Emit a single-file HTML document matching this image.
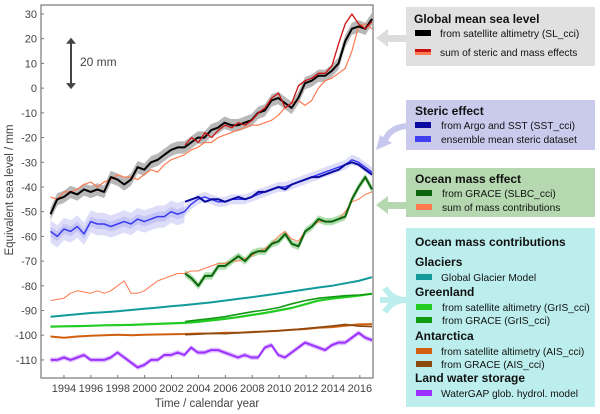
<!DOCTYPE html>
<html><head><meta charset="utf-8"><style>
body{margin:0;background:#fff;font-family:"Liberation Sans",sans-serif}
svg{display:block}
text{font-family:"Liberation Sans",sans-serif}
</style></head><body>
<svg id="c" width="600" height="414" viewBox="0 0 600 414"></svg>
<script>
const halfYearBlack=[-51,-45,-44,-42,-43,-41,-42,-41,-42,-36,-37,-39,-37,-32,-33,-30,-29,-27,-25,-24,-24,-22,-20,-20,-17,-16,-14,-15,-15,-14,-13,-10,-9,-5,-4,-6,-8,-4,2,3,5,5,7,10,19,24,25,24,28];
const halfYearOrangeSum=[-44,-45,-42,-42,-41,-39,-38,-40,-38,-37,-35,-36,-36,-37,-35,-33,-34,-31,-29,-28,-27,-25,-24,-22,-22,-20,-19,-18,-17,-16,-15,-15,-14,-13,-11,-8,-6,-5,-7,-5,0,3,4,6,8,15,25,26,24];
const redSum=[-23,-20,-22,-18,-20,-17,-15,-16,-14,-15,-13,-10,-8,-4,-2,-8,-6,1,3,4,6,6,9,18,26,30,26,24,27];
const stericArgo=[-46,-45,-44,-46,-45,-45,-46,-45,-44,-45,-44,-42,-42,-41,-40,-41,-39,-38,-37,-36,-36,-35,-34,-33,-31,-30,-31,-33,-35];
const stericEnsemble=[-58,-60,-57,-58,-56,-59,-54,-55,-55,-56,-55,-54,-55,-53,-54,-53,-52,-52,-50,-51,-50,-47,-45,-44,-45,-46,-46,-45,-45,-45,-44,-43,-42,-41,-40,-40,-39,-38,-37,-36,-35,-34,-33,-32,-31,-29,-30,-32,-34];
const massGrace=[-75,-77,-80,-76,-76,-72,-72,-70,-68,-70,-67,-66,-66,-63,-62,-59,-63,-64,-58,-56,-53,-54,-54,-53,-52,-45,-40,-36,-41];
const massSum=[-86,-85.5,-85,-83,-82,-82.5,-83,-82,-83,-82,-80,-78,-83,-83,-82,-80,-78,-77,-76,-75,-75,-74,-74,-73,-72,-71,-71,-70,-70,-69,-68,-66,-65,-63,-60,-58,-61,-62,-58,-56,-54,-54,-54,-53,-50,-46,-45,-43,-42];
const glaciers=[-92.5,-92,-91.5,-91,-90.7,-90.3,-89.8,-89.3,-88.8,-88.3,-87.8,-87.3,-86.7,-86,-85.3,-84.6,-83.9,-83.1,-82.3,-81.5,-80.7,-80,-79,-78,-76.5];
const greenlandAlt=[-96.5,-96.4,-96.3,-96.2,-96,-95.9,-95.8,-95.6,-95.4,-95.2,-95,-94.6,-94,-93.4,-92.7,-91.8,-91,-90,-89,-87.5,-86,-85.2,-84.6,-84,-83.2];
const greenlandGrace=[-94.5,-93.8,-93.2,-92.5,-91.5,-90.5,-89.8,-88.8,-87.3,-86,-85,-84.5,-84,-83.7,-83.3];
const antarcticAlt=[-100.5,-101,-100.5,-100.2,-100,-99.8,-100,-99.8,-99.7,-99.6,-99.5,-99.3,-99.3,-99,-99,-98.7,-98.5,-98.2,-97.8,-97.5,-97,-96.7,-96.2,-95.6,-95.5];
const antarcticGrace=[-99.8,-99.6,-99.2,-99.4,-99,-98.8,-98.5,-98.2,-97.8,-97.3,-96.8,-96.3,-95.6,-96.3,-96.5];
const landWater=[-110,-110,-109,-110,-109,-108,-110,-110,-110,-109,-107,-109,-111,-113,-112,-110,-110,-108,-108,-107,-108,-105,-107,-107,-106,-106,-107,-108,-109,-108,-109,-109,-105,-104,-108,-109,-107,-105,-103,-104,-105,-106,-104,-103,-103,-101,-99,-101,-102];
const yTicks=[30,20,10,0,-10,-20,-30,-40,-50,-60,-70,-80,-90,-100,-110];
const xTicks=[1994,1996,1998,2000,2002,2004,2006,2008,2010,2012,2014,2016];

const NS="http://www.w3.org/2000/svg";
const svg=document.getElementById('c');
const X=t=>50.5+(t-1993)*13.45;
const Y=v=>14+(30-v)*2.471;
function el(tag,attrs,parent){const e=document.createElementNS(NS,tag);for(const k in attrs)e.setAttribute(k,attrs[k]);(parent||svg).appendChild(e);return e;}
function tOf(n,start,endT){const out=[];for(let i=0;i<n;i++)out.push(start+i*(endT-start)/(n-1));return out;}
function pts(arr,start){const ts=tOf(arr.length,start,2016.9);return arr.map((v,i)=>X(ts[i]).toFixed(1)+','+Y(v).toFixed(1)).join(' ');}
function line(arr,start,color,w,name){const e=el('polyline',{points:pts(arr,start),fill:'none',stroke:color,'stroke-width':w,'stroke-linejoin':'round'});

return e;}
function band(arr,start,hw,color,op,name,nUse){const ts=tOf(arr.length,start,2016.9);
const n=nUse||arr.length;
let up=[],dn=[];
for(let i=0;i<n;i++){up.push(X(ts[i]).toFixed(1)+','+Y(arr[i]+hw).toFixed(1));dn.push(X(ts[i]).toFixed(1)+','+Y(arr[i]-hw).toFixed(1));}
const e=el('polygon',{points:up.concat(dn.reverse()).join(' '),fill:color,'fill-opacity':op});

}

const fr=el('rect',{x:41,y:5,width:332,height:373,fill:'none',stroke:'#777','stroke-width':1.2});


yTicks.forEach(v=>{el('line',{x1:41,x2:44,y1:Y(v),y2:Y(v),stroke:'#777'});
const t=el('text',{x:37,y:Y(v)+4,'text-anchor':'end','font-size':11,fill:'#444'});t.textContent=v;

});
xTicks.forEach(v=>{el('line',{x1:X(v),x2:X(v),y1:378,y2:375,stroke:'#777'});
const t=el('text',{x:X(v),y:392,'text-anchor':'middle','font-size':11,fill:'#444'});t.textContent=v;

});
let yt=el('text',{transform:'translate(13,190) rotate(-90)','text-anchor':'middle','font-size':11.5,fill:'#444'});yt.textContent='Equivalent sea level / mm';


let xt=el('text',{x:207,y:407,'text-anchor':'middle','font-size':11.5,fill:'#444'});xt.textContent='Time / calendar year';


el('line',{x1:71,x2:71,y1:Y(20)+3,y2:Y(0)-3,stroke:'#444','stroke-width':2});
el('polygon',{points:`66,${Y(20)+5} 71,${Y(20)-1} 76,${Y(20)+5}`,fill:'#444'});
el('polygon',{points:`66,${Y(0)-5} 71,${Y(0)+1} 76,${Y(0)-5}`,fill:'#444'});
let sm=el('text',{x:80,y:66,'font-size':12,fill:'#444'});sm.textContent='20 mm';



band(stericEnsemble,1993,4.5,'#8f8ff0',0.3,'steric-ensemble-band-early',21);
band(stericEnsemble,1993,2,'#8f8ff0',0.3,'steric-band');
band(halfYearBlack,1993,2.5,'#888',0.6,'gmsl-band');
band(massGrace,2003,1.5,'#5fbf5f',0.5,'grace-band');
band(landWater,1993,1,'#c080ff',0.5,'landwater-band');
line(stericEnsemble,1993,'#3a3af0',1.5,'steric-ensemble-line');
line(stericArgo,2003,'#0a0aa0',2,'steric-argo-line');
line(halfYearOrangeSum,1993,'#ff7a50',1.2,'gmsl-sum-orange-line');
line(halfYearBlack,1993,'#000',2,'gmsl-altimetry-line');
line(redSum,2003,'#cc1010',1.3,'gmsl-sum-red-line');
line(massSum,1993,'#ff7a50',1,'mass-sum-line');
line(massGrace,2003,'#0b640b',2,'mass-grace-line');
line(glaciers,1993,'#129a9a',2,'glaciers-line');
line(greenlandAlt,1993,'#22cc22',2.2,'greenland-altimetry-line');
line(greenlandGrace,2003,'#119911',1.6,'greenland-grace-line');
line(antarcticAlt,1993,'#d06010',2,'antarctica-altimetry-line');
line(antarcticGrace,2003,'#8a4a10',1.6,'antarctica-grace-line');
line(landWater,1993,'#9b30ff',2,'landwater-line');

function arrowShape(d,color,name){const g=el('path',{d:d,fill:color});}
arrowShape('M376,38 L388,29 L388,35 L406,35 L406,42 L388,42 L388,47 Z','#dcdcdc','gmsl-arrow');
arrowShape('M376,205 L388,196 L388,202 L406,202 L406,209 L388,209 L388,214 Z','#b5d8b0','mass-arrow');
el('path',{d:'M406,126 Q390,128 385,140',fill:'none',stroke:'#c8c8ee','stroke-width':6});
arrowShape('M376,150 L380,135 L392,143 Z','#c8c8ee','steric-arrow');
el('path',{d:'M406,300 Q392,300 385,288 M406,300 Q392,300 385,312',fill:'none',stroke:'#bdeeee','stroke-width':6});
el('path',{d:'M406,300 L380,300',fill:'none',stroke:'#bdeeee','stroke-width':6});

function box(x,y,w,h,fill,name){const r=el('rect',{x:x,y:y,width:w,height:h,fill:fill});}
function txt(x,y,s,bold,size,name){const t=el('text',{x:x,y:y,'font-size':size||10.3,'font-weight':bold?'bold':'normal',fill:'#111'});t.textContent=s;}
function sw(x,yc,c,name,c2){if(c2){box(x,yc-3,16,3,c,name);box(x,yc,16,3,c2,name+'-2');}else box(x,yc-3,16,6,c,name);}
const F=10.2;
box(406,7,189,59,'#e0e0e0','gmsl-legend');
txt(414,23,'Global mean sea level',true,12,'gmsl-legend-title');
sw(415,33,'#000','legend-swatch-black');txt(440,37,'from satellite altimetry (SL_cci)',false,F,'legend-entry-altimetry');
sw(415,52,'#cc1010','legend-swatch-red','#ff7a50');txt(440,56,'sum of steric and mass effects',false,F,'legend-entry-sum');
box(406,100,189,50,'#cacaec','steric-legend');
txt(415,115,'Steric effect',true,12,'steric-legend-title');
sw(415,125,'#0a0aa0','legend-swatch-argo');txt(441,129,'from Argo and SST (SST_cci)',false,F,'legend-entry-argo');
sw(415,139,'#4040f0','legend-swatch-ensemble');txt(441,143,'ensemble mean steric dataset',false,F,'legend-entry-ensemble');
box(406,168,189,49,'#b5d8b0','mass-legend');
txt(415,183,'Ocean mass effect',true,12,'mass-legend-title');
sw(416,193,'#0b640b','legend-swatch-grace');txt(442,197,'from GRACE (SLBC_cci)',false,F,'legend-entry-grace');
sw(416,207,'#ff7a50','legend-swatch-masssum');txt(442,211,'sum of mass contributions',false,F,'legend-entry-masssum');
box(406,228,189,179,'#bdeeee','contrib-legend');
txt(415,246,'Ocean mass contributions',true,12,'contrib-legend-title');
txt(415,266,'Glaciers',true,12,'glaciers-heading');
sw(416,277,'#129a9a','legend-swatch-glaciers');txt(441,281,'Global Glacier Model',false,F,'legend-entry-glaciers');
txt(415,296,'Greenland',true,12,'greenland-heading');
sw(416,307,'#22cc22','legend-swatch-grl-alt');txt(442,311,'from satellite altimetry (GrIS_cci)',false,F,'legend-entry-grl-alt');
sw(416,320,'#119911','legend-swatch-grl-grace');txt(442,324,'from GRACE (GrIS_cci)',false,F,'legend-entry-grl-grace');
txt(415,340,'Antarctica',true,12,'antarctica-heading');
sw(416,351,'#d06010','legend-swatch-ais-alt');txt(441,355,'from satellite altimetry (AIS_cci)',false,F,'legend-entry-ais-alt');
sw(416,364,'#8a4a10','legend-swatch-ais-grace');txt(441,368,'from GRACE (AIS_cci)',false,F,'legend-entry-ais-grace');
txt(415,382,'Land water storage',true,12,'landwater-heading');
sw(416,393,'#9b30ff','legend-swatch-landwater');txt(441,397,'WaterGAP glob. hydrol. model',false,F,'legend-entry-landwater');
</script>
</body></html>
